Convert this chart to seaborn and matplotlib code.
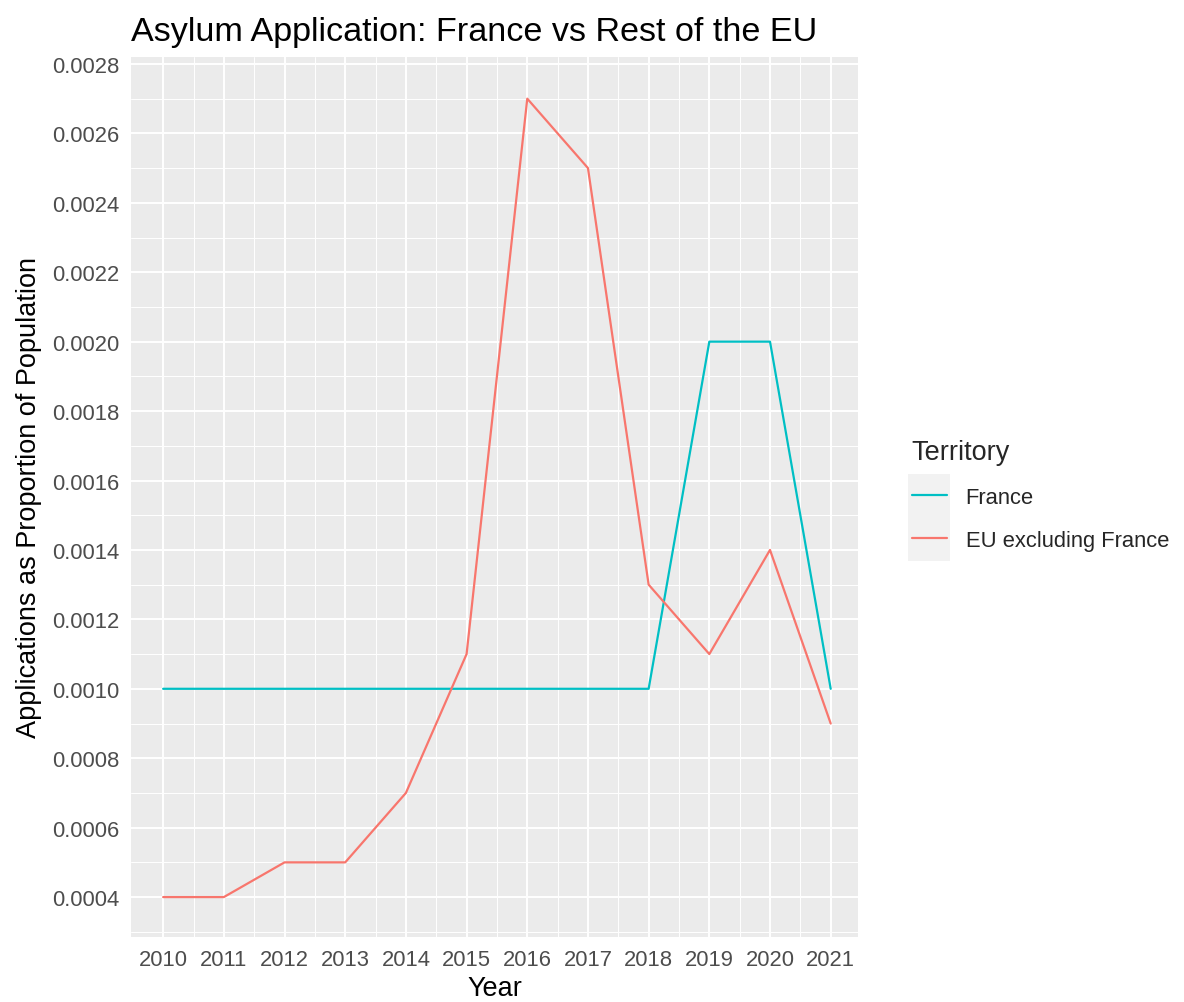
import numpy as np
import pandas as pd
import matplotlib
matplotlib.use("Agg")
import matplotlib.pyplot as plt
import seaborn as sns
from matplotlib.patches import Rectangle
from matplotlib.lines import Line2D

years = [2010, 2011, 2012, 2013, 2014, 2015, 2016, 2017, 2018, 2019, 2020, 2021]
france = [0.0010, 0.0010, 0.0010, 0.0010, 0.0010, 0.0010, 0.0010, 0.0010, 0.0010, 0.0020, 0.0020, 0.0010]
eu_excl = [0.0004, 0.0004, 0.0005, 0.0005, 0.0007, 0.0011, 0.0027, 0.0025, 0.0013, 0.0011, 0.0014, 0.0009]
territories = ["France", "EU excluding France"]
colors = ["#00BFC4", "#F8766D"]
y_ticks = [0.0004, 0.0006, 0.0008, 0.0010, 0.0012, 0.0014, 0.0016, 0.0018, 0.0020, 0.0022, 0.0024, 0.0026, 0.0028]

df = pd.DataFrame({
    "Year": years * 2,
    "Value": france + eu_excl,
    "Territory": [territories[0]] * len(years) + [territories[1]] * len(years),
})

sns.set_theme(style="darkgrid")
plt.rcParams["font.family"] = ["Liberation Sans", "DejaVu Sans"]

fig = plt.figure(figsize=(11.84, 10.03), dpi=100)
ax = fig.add_axes([131 / 1184, 65 / 1003, (858 - 131) / 1184, 880 / 1003])
ax.set_facecolor("#EBEBEB")

sns.lineplot(data=df, x="Year", y="Value", hue="Territory",
             palette=dict(zip(territories, colors)),
             hue_order=territories, linewidth=1.6, ax=ax, legend=False)

ax.set_xlim(years[0] - 0.53, years[-1] + 0.45)
ax.set_ylim(0.000285, 0.00282)
ax.set_xticks(years)
ax.set_xticklabels([str(y) for y in years])
ax.set_xticks([y + 0.5 for y in years[:-1]], minor=True)
ax.set_yticks(y_ticks)
ax.set_yticklabels([f"{v:.4f}" for v in y_ticks])
ax.set_yticks([v + 0.0001 for v in [0.0002] + y_ticks[:-1]], minor=True)

ax.grid(which="major", color="white", linewidth=1.4)
ax.grid(which="minor", color="white", linewidth=0.7)
for s in ax.spines.values():
    s.set_visible(False)

ax.tick_params(axis="both", which="major", length=5, width=1.0, color="#333333",
               labelsize=15.8, labelcolor="#4D4D4D", pad=3.5)
ax.tick_params(axis="both", which="minor", length=0)

ax.set_xlabel("Year", fontsize=19.5, color="black", labelpad=4)
ax.set_ylabel("Applications as Proportion of Population", fontsize=19.5, color="black", labelpad=7)
ax.set_title("Asylum Application: France vs Rest of the EU", fontsize=24.6, loc="left",
             color="black", pad=12)

handles = [Line2D([], [], color=c, linewidth=1.6) for c in colors]
ax.legend(handles, territories, title="Territory", loc="upper left",
          bbox_to_anchor=(892 / 1184, 1 - 420 / 1003), bbox_transform=fig.transFigure,
          frameon=False, fontsize=15.8, title_fontsize=19.5, alignment="left",
          handlelength=1.6, handletextpad=0.85, labelspacing=1.0)

fig.patches.append(Rectangle((908 / 1184, 1 - 562 / 1003), 42 / 1184, 87 / 1003,
                             transform=fig.transFigure, facecolor="#F2F2F2",
                             edgecolor="none", zorder=-1))

fig.savefig("out.png", dpi=100, facecolor="white")
